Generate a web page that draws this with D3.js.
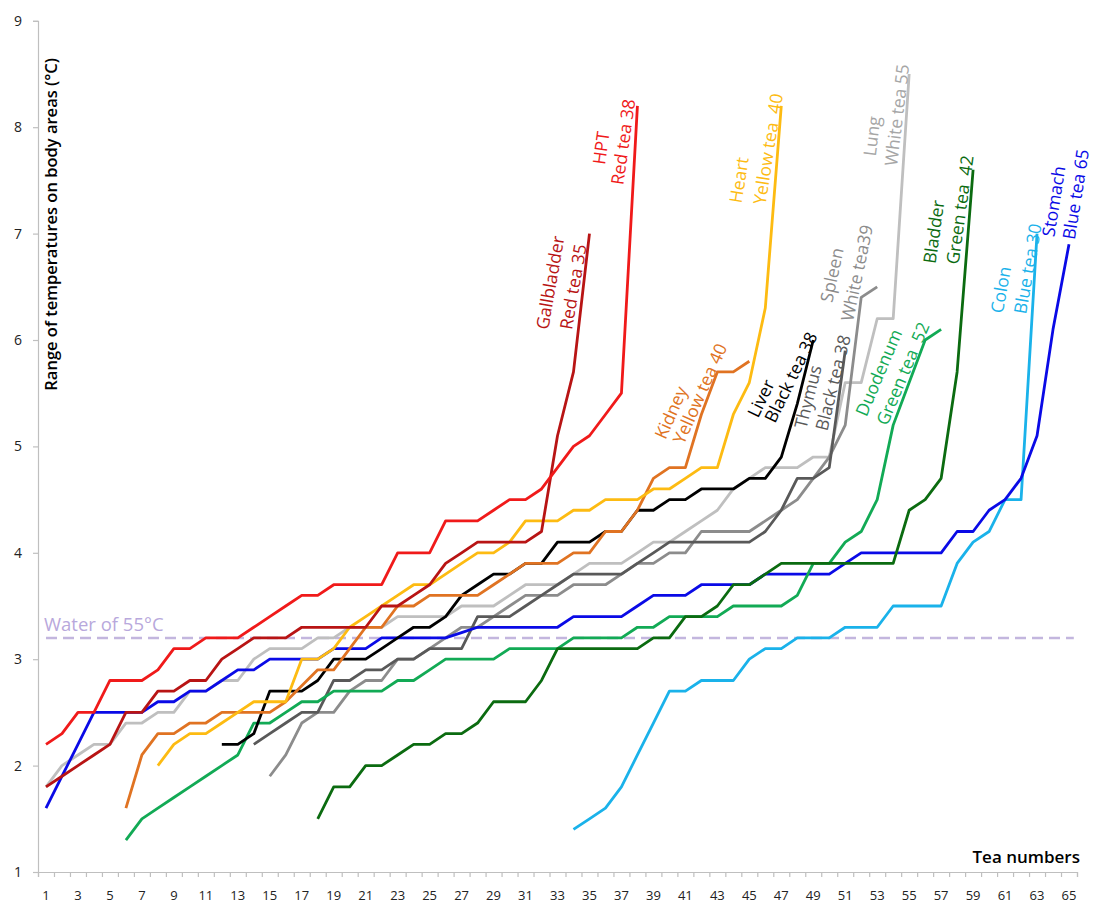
<!DOCTYPE html>
<html>
<head>
<meta charset="utf-8">
<script src="https://cdn.jsdelivr.net/npm/d3@7"></script>
<style>
  html, body { margin: 0; padding: 0; background: #fff; }
  svg { display: block; font-family: "Open Sans", "Noto Sans", sans-serif; }
  text { white-space: pre; }
</style>
</head>
<body>
<svg id="chart" width="1094" height="905"></svg>
<script>
// ---------------- DATA ----------------
const teaNumbers = d3.range(1, 66);
const yTicks = [1, 2, 3, 4, 5, 6, 7, 8, 9];
const xTickLabels = d3.range(1, 66, 2);
const waterLevel = 3.2;

// each series: start tea number + values
const hptStart = 1;
const hptRed = [2.2,2.3,2.5,2.5,2.8,2.8,2.8,2.9,3.1,3.1,3.2,3.2,3.2,3.3,3.4,3.5,3.6,3.6,3.7,3.7,3.7,3.7,4.0,4.0,4.0,4.3,4.3,4.3,4.4,4.5,4.5,4.6,4.8,5.0,5.1,5.3,5.5,8.2];
const gallStart = 1;
const gallbladderRed = [1.8,1.9,2.0,2.1,2.2,2.5,2.5,2.7,2.7,2.8,2.8,3.0,3.1,3.2,3.2,3.2,3.3,3.3,3.3,3.3,3.3,3.5,3.5,3.6,3.7,3.9,4.0,4.1,4.1,4.1,4.1,4.2,5.1,5.7,7.0];
const heartStart = 8;
const heartYellow = [2.0,2.2,2.3,2.3,2.4,2.5,2.6,2.6,2.6,3.0,3.0,3.1,3.3,3.4,3.5,3.6,3.7,3.7,3.8,3.9,4.0,4.0,4.1,4.3,4.3,4.3,4.4,4.4,4.5,4.5,4.5,4.6,4.6,4.7,4.8,4.8,5.3,5.6,6.3,8.2];
const kidneyStart = 6;
const kidneyYellow = [1.6,2.1,2.3,2.3,2.4,2.4,2.5,2.5,2.5,2.5,2.6,2.75,2.9,2.9,3.1,3.3,3.3,3.5,3.5,3.6,3.6,3.6,3.6,3.7,3.8,3.9,3.9,3.9,4.0,4.0,4.2,4.2,4.4,4.7,4.8,4.8,5.3,5.7,5.7,5.8];
const lungStart = 1;
const lungWhite = [1.8,2.0,2.1,2.2,2.2,2.4,2.4,2.5,2.5,2.7,2.7,2.8,2.8,3.0,3.1,3.1,3.1,3.2,3.2,3.3,3.3,3.3,3.4,3.4,3.4,3.4,3.5,3.5,3.5,3.6,3.7,3.7,3.7,3.8,3.9,3.9,3.9,4.0,4.1,4.1,4.2,4.3,4.4,4.6,4.7,4.8,4.8,4.8,4.9,4.9,5.6,5.6,6.2,6.2,8.5];
const liverStart = 12;
const liverBlack = [2.2,2.2,2.3,2.7,2.7,2.7,2.8,3.0,3.0,3.0,3.1,3.2,3.3,3.3,3.4,3.6,3.7,3.8,3.8,3.9,3.9,4.1,4.1,4.1,4.2,4.2,4.4,4.4,4.5,4.5,4.6,4.6,4.6,4.7,4.7,4.9,5.4,6.0];
const thymusStart = 14;
const thymusBlack = [2.2,2.3,2.4,2.5,2.5,2.8,2.8,2.9,2.9,3.0,3.0,3.1,3.1,3.1,3.4,3.4,3.4,3.5,3.6,3.7,3.8,3.8,3.8,3.8,3.9,4.0,4.1,4.1,4.1,4.1,4.1,4.1,4.2,4.4,4.7,4.7,4.8,5.9];
const spleenStart = 15;
const spleenWhite = [1.9,2.1,2.4,2.5,2.5,2.7,2.8,2.8,3.0,3.0,3.1,3.2,3.3,3.3,3.4,3.5,3.6,3.6,3.6,3.7,3.7,3.7,3.8,3.9,3.9,4.0,4.0,4.2,4.2,4.2,4.2,4.3,4.4,4.5,4.7,4.9,5.2,6.4,6.5];
const duodenumStart = 6;
const duodenumGreen = [1.3,1.5,1.6,1.7,1.8,1.9,2.0,2.1,2.4,2.4,2.5,2.6,2.6,2.7,2.7,2.7,2.7,2.8,2.8,2.9,3.0,3.0,3.0,3.0,3.1,3.1,3.1,3.1,3.2,3.2,3.2,3.2,3.3,3.3,3.4,3.4,3.4,3.4,3.5,3.5,3.5,3.5,3.6,3.9,3.9,4.1,4.2,4.5,5.2,5.6,6.0,6.1];
const bladderStart = 18;
const bladderGreen = [1.5,1.8,1.8,2.0,2.0,2.1,2.2,2.2,2.3,2.3,2.4,2.6,2.6,2.6,2.8,3.1,3.1,3.1,3.1,3.1,3.1,3.2,3.2,3.4,3.4,3.5,3.7,3.7,3.8,3.9,3.9,3.9,3.9,3.9,3.9,3.9,3.9,4.4,4.5,4.7,5.7,7.6];
const colonStart = 34;
const colonBlue = [1.4,1.5,1.6,1.8,2.1,2.4,2.7,2.7,2.8,2.8,2.8,3.0,3.1,3.1,3.2,3.2,3.2,3.3,3.3,3.3,3.5,3.5,3.5,3.5,3.9,4.1,4.2,4.5,4.5,7.0];
const stomachStart = 1;
const stomachBlue = [1.6,1.9,2.2,2.5,2.5,2.5,2.5,2.6,2.6,2.7,2.7,2.8,2.9,2.9,3.0,3.0,3.0,3.0,3.1,3.1,3.1,3.2,3.2,3.2,3.2,3.2,3.25,3.3,3.3,3.3,3.3,3.3,3.3,3.4,3.4,3.4,3.4,3.5,3.6,3.6,3.6,3.7,3.7,3.7,3.7,3.8,3.8,3.8,3.8,3.8,3.9,4.0,4.0,4.0,4.0,4.0,4.0,4.2,4.2,4.4,4.5,4.7,5.1,6.1,6.9];

// ---------------- SERIES TABLE (drawing order) ----------------
const series = [
  {key:"lung", start:lungStart, values:lungWhite, color:"#bfbfbf", l1:"Lung", l2:"White tea 55", lc:"#a6a6a6", ang:-83, o1:[-38,62], o2:[-13,41]},
  {key:"spleen", start:spleenStart, values:spleenWhite, color:"#8c8c8c", l1:"Spleen", l2:"White tea39", lc:"#8c8c8c", ang:-78, o1:[-46,-12], o2:[-21,-14]},
  {key:"thymus", start:thymusStart, values:thymusBlack, color:"#595959", l1:"Thymus", l2:"Black tea 38", lc:"#595959", ang:-76, o1:[-38,46], o2:[-13,32]},
  {key:"colon", start:colonStart, values:colonBlue, color:"#1ab2ea", l1:"Colon", l2:"Blue tea 30", lc:"#1ab2ea", ang:-80, o1:[-37,56], o2:[-10,35]},
  {key:"stomach", start:stomachStart, values:stomachBlue, color:"#0a0ae6", l1:"Stomach", l2:"Blue tea 65", lc:"#0a0ae6", ang:-81, o1:[-16,-43], o2:[6,-50]},
  {key:"duodenum", start:duodenumStart, values:duodenumGreen, color:"#12aa55", l1:"Duodenum", l2:"Green tea  52", lc:"#12aa55", ang:-67, o1:[-63,43], o2:[-39,44]},
  {key:"bladder", start:bladderStart, values:bladderGreen, color:"#0b6b10", l1:"Bladder", l2:"Green tea  42", lc:"#0b6b10", ang:-82, o1:[-40,62], o2:[-14,40]},
  {key:"liver", start:liverStart, values:liverBlack, color:"#000000", l1:"Liver", l2:"Black tea 38", lc:"#000000", ang:-64, o1:[-53,58], o2:[-23,37]},
  {key:"kidney", start:kidneyStart, values:kidneyYellow, color:"#e07322", l1:"Kidney", l2:"Yellow tea 40", lc:"#e07322", ang:-66, o1:[-79,51], o2:[-50,32]},
  {key:"heart", start:heartStart, values:heartYellow, color:"#fdbb12", l1:"Heart", l2:"Yellow tea  40", lc:"#fdbb12", ang:-81, o1:[-43,74], o2:[-14,43]},
  {key:"gall", start:gallStart, values:gallbladderRed, color:"#b81414", l1:"Gallbladder", l2:"Red tea 35", lc:"#b81414", ang:-80, o1:[-40,49], o2:[-17,53]},
  {key:"hpt", start:hptStart, values:hptRed, color:"#f01a1a", l1:"HPT", l2:"Red tea 38", lc:"#f01a1a", ang:-82, o1:[-37,42], o2:[-15,36]}
];

// ---------------- CHART ----------------
const svg = d3.select("#chart");
const x = d3.scaleLinear().domain([0.5, 65.5]).range([38, 1077]);
const y = d3.scaleLinear().domain([1, 9]).range([872, 20.8]);
const axisColor = "#bfbfbf";

// x axis
const xAxis = d3.axisBottom(x)
  .tickValues(d3.range(0.5, 66, 1))
  .tickSize(5)
  .tickFormat("");
const gx = svg.append("g").attr("transform", `translate(0,${y(1)})`).call(xAxis);
gx.selectAll("path, line").attr("stroke", axisColor).attr("stroke-width", 1.2);
svg.append("g").selectAll("text").data(xTickLabels).join("text")
  .attr("x", d => x(d)).attr("y", 900)
  .attr("text-anchor", "middle")
  .attr("font-size", 13).attr("fill", "#222")
  .text(d => d);

// y axis
const yAxis = d3.axisLeft(y).tickValues(yTicks).tickSize(5).tickFormat("");
const gy = svg.append("g").attr("transform", `translate(${x(0.5)},0)`).call(yAxis);
gy.selectAll("path, line").attr("stroke", axisColor).attr("stroke-width", 1.2);
svg.append("g").selectAll("text").data(yTicks).join("text")
  .attr("x", 22).attr("y", d => y(d) + 5)
  .attr("text-anchor", "end")
  .attr("font-size", 14).attr("fill", "#222")
  .text(d => d);

// water line
svg.append("line")
  .attr("x1", x(1)).attr("x2", x(65.3))
  .attr("y1", y(waterLevel)).attr("y2", y(waterLevel))
  .attr("stroke", "#c3b6de").attr("stroke-width", 2.5)
  .attr("stroke-dasharray", "11,6");
svg.append("text")
  .attr("x", 44).attr("y", y(waterLevel) - 7)
  .attr("font-size", 18.5).attr("fill", "#b8a8dc")
  .text("Water of 55°C");

// lines
const line = d3.line().x(d => x(d.n)).y(d => y(d.v));
series.forEach(s => {
  s.points = s.values.map((v, i) => ({n: s.start + i, v}));
  svg.append("path")
    .datum(s.points)
    .attr("fill", "none")
    .attr("stroke", s.color)
    .attr("stroke-width", 2.8)
    .attr("stroke-linejoin", "round")
    .attr("d", line);
});

// labels
series.forEach(s => {
  const last = s.points[s.points.length - 1];
  const ex = x(last.n), ey = y(last.v);
  [[s.l1, s.o1], [s.l2, s.o2]].forEach(([t, o]) => {
    svg.append("text")
      .attr("transform", `translate(${ex + o[0]},${ey + o[1]}) rotate(${s.ang})`)
      .attr("text-anchor", "middle")
      .attr("dominant-baseline", "central")
      .attr("font-size", 17.5)
      .attr("font-weight", 500)
      .attr("fill", s.lc)
      .text(t);
  });
});

// axis titles
svg.append("text")
  .attr("transform", "translate(57,58) rotate(-90)")
  .attr("text-anchor", "end")
  .attr("font-size", 16.5).attr("font-weight", 600).attr("fill", "#000")
  .text("Range of temperatures on body areas (°C)");
svg.append("text")
  .attr("x", 1080).attr("y", 863)
  .attr("text-anchor", "end")
  .attr("font-size", 17).attr("font-weight", 600).attr("fill", "#000")
  .text("Tea numbers");
</script>
</body>
</html>
